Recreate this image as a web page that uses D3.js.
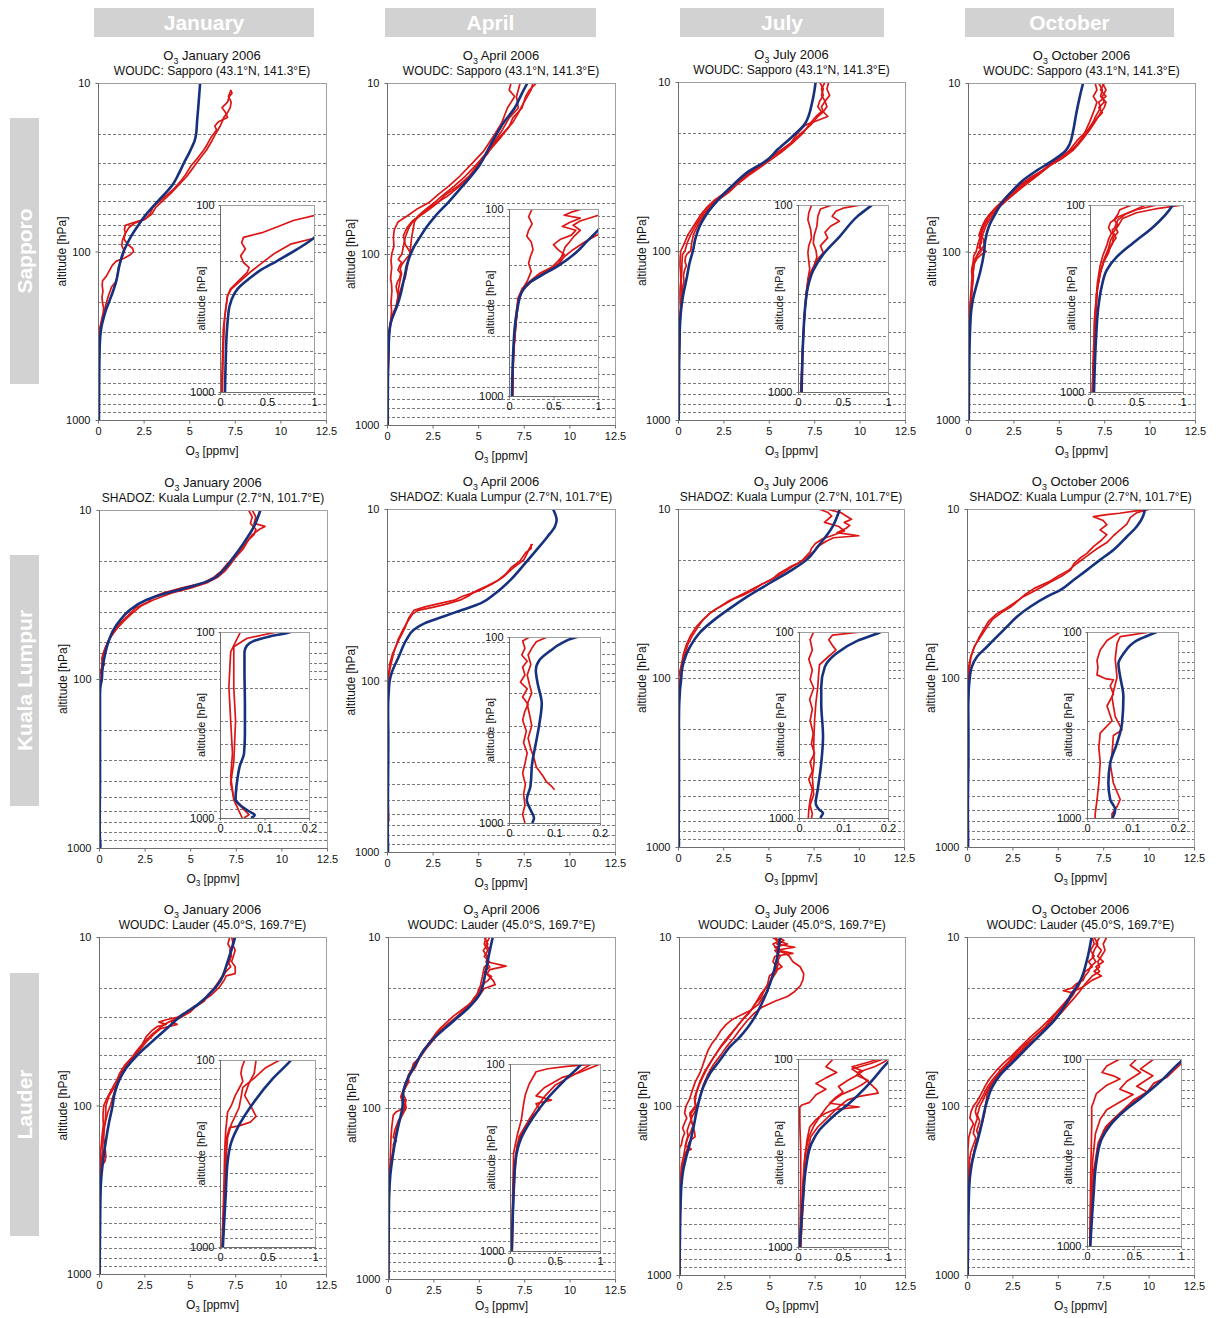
<!DOCTYPE html>
<html>
<head>
<meta charset="utf-8">
<script src="https://cdn.jsdelivr.net/npm/d3@7"></script>
<style>
  html, body { margin: 0; padding: 0; background: #fff; }
  svg { display: block; font-family: "Liberation Sans", Arial, Helvetica, sans-serif; }
</style>
</head>
<body>
<svg id="chart" width="1216" height="1318"></svg>
<script>
// ---------------------------------------------------------------
// Labels and ticks
// ---------------------------------------------------------------
const months = ["January", "April", "July", "October"];
const stations = ["Sapporo", "Kuala Lumpur", "Lauder"];
const stationSubtitles = [
  "WOUDC: Sapporo (43.1°N, 141.3°E)",
  "SHADOZ: Kuala Lumpur (2.7°N, 101.7°E)",
  "WOUDC: Lauder (45.0°S, 169.7°E)"
];
const year = "2006";
const mainTicksX = [0, 2.5, 5, 7.5, 10, 12.5];
const mainTicksY = [10, 100, 1000];
const insetTicksY = [100, 1000];
const insetTicksX = [[0, 0.5, 1], [0, 0.1, 0.2], [0, 0.5, 1]];
const insetMaxX = [1, 0.2, 1];
const gridLevels = [20, 30, 40, 50, 60, 70, 80, 90, 100, 200, 300, 400, 500, 600, 700, 800, 900];

// ---------------------------------------------------------------
// Ozone profiles: [pressure hPa, O3 ppmv]
// Model = monthly mean model profile, sondes = individual soundings
// ---------------------------------------------------------------
// Sapporo
const sapJanModel = [[10,5.6],[13,5.52],[17,5.43],[20,5.38],[22,5.3],[24,5.15],[26,5.0],[30,4.7],[35,4.4],[40,4.1],[45,3.7],[50,3.3],[60,2.65],[70,2.2],[80,1.85],[90,1.6],[100,1.4],[120,1.18],[150,1.0],[175,0.8],[200,0.6],[225,0.42],[250,0.3],[280,0.19],[300,0.15],[350,0.1],[400,0.085],[500,0.07],[700,0.06],[1000,0.053]];
const sapJanSondes = [
  [[11,7.25],[11.5,7.35],[12,7.2],[13,7.1],[14,6.8],[15,7.0],[16,7.1],[17,6.6],[18,6.4],[19,6.5],[21,6.2],[23,6.0],[25,5.8],[28,5.45],[31,5.1],[35,4.8],[38,4.55],[42,4.2],[46,3.8],[50,3.4],[55,3.0],[60,2.85],[64,2.6],[67,2.0],[70,1.5],[74,1.45],[78,1.5],[84,1.42],[90,1.6],[96,1.9],[100,1.95],[105,1.75],[110,1.4],[114,1.0],[121,0.78],[129,0.64],[140,0.46],[149,0.25],[159,0.23],[172,0.27],[187,0.22],[203,0.25],[216,0.31],[229,0.29],[254,0.2],[282,0.11],[306,0.08],[361,0.06],[461,0.035],[700,0.025],[1000,0.014]],
  [[11,7.3],[12,7.15],[13,7.3],[14,7.25],[15,7.1],[16,6.9],[17,6.8],[18,6.7],[20,6.45],[22,6.25],[25,5.95],[28,5.6],[32,5.2],[36,4.85],[40,4.45],[45,4.0],[50,3.55],[55,3.15],[60,2.95],[65,2.5],[68,2.0],[72,1.7],[78,1.5],[85,1.35],[92,1.3],[100,1.45],[110,1.3],[125,1.12],[140,1.05],[151,0.99],[162,0.75],[183,0.57],[207,0.43],[229,0.32],[259,0.2],[282,0.12],[306,0.08],[400,0.05],[600,0.035],[1000,0.025]]
];
const sapAprModel = [[10,7.7],[11.5,7.4],[14,7.0],[17,6.4],[20,6.0],[25,5.5],[30,5.1],[40,4.15],[50,3.35],[60,2.65],[70,2.15],[80,1.8],[90,1.5],[100,1.3],[115,1.1],[130,1.0],[150,0.87],[170,0.76],[200,0.56],[227,0.36],[247,0.23],[280,0.14],[330,0.1],[420,0.067],[600,0.046],[1000,0.033]];
const sapAprSondes = [
  [[10,6.8],[11,6.7],[12,7.0],[14,6.6],[17,6.3],[20,5.9],[25,5.3],[30,4.6],[35,4.0],[40,3.4],[45,2.8],[50,2.3],[55,1.6],[60,1.1],[65,0.6],[72,0.4],[80,0.35],[90,0.38],[100,0.26],[110,0.22],[120,0.26],[130,0.22],[140,0.2],[150,0.25],[165,0.27],[180,0.24],[195,0.22],[215,0.25],[240,0.21],[270,0.15],[300,0.11],[400,0.08],[600,0.05],[1000,0.035]],
  [[10,8.0],[11,7.9],[13,7.5],[15,7.2],[17,6.9],[20,6.3],[23,5.8],[26,5.5],[30,5.0],[35,4.5],[40,3.9],[45,3.2],[50,2.8],[55,2.3],[60,1.8],[65,1.4],[70,1.2],[80,1.0],[90,0.9],[100,0.82],[104,0.7],[108,0.62],[112,0.8],[118,0.68],[124,0.6],[130,0.75],[138,0.7],[145,0.58],[155,0.5],[165,0.55],[175,0.62],[190,0.55],[205,0.48],[220,0.35],[240,0.25],[265,0.15],[300,0.1],[400,0.07],[600,0.05],[1000,0.04]],
  [[10,7.3],[12,7.1],[14,7.2],[16,6.7],[19,6.3],[22,5.9],[26,5.4],[30,4.9],[35,4.3],[40,3.7],[45,3.1],[50,2.6],[55,2.1],[60,1.7],[65,1.5],[70,1.45],[80,1.35],[90,1.3],[100,1.25],[120,1.1],[137,1.0],[150,0.85],[165,0.72],[180,0.62],[200,0.55],[220,0.4],[245,0.25],[270,0.16],[300,0.11],[400,0.075],[600,0.05],[1000,0.04]],
  [[10,8.2],[11,7.8],[12,7.6],[14,7.4],[16,6.9],[18,6.7],[21,6.2],[25,5.6],[30,5.0],[35,4.6],[40,4.0],[46,3.3],[52,2.5],[58,1.9],[64,1.4],[70,1.1],[78,0.9],[88,1.0],[95,1.2],[100,1.3],[105,1.1],[110,0.95],[116,0.8],[122,0.72],[130,0.8],[140,0.73],[150,0.68],[160,0.63],[175,0.6],[195,0.56],[210,0.45],[230,0.32],[260,0.18],[300,0.11],[400,0.08],[600,0.05],[1000,0.04]]
];
const sapJulModel = [[10,7.58],[13,7.4],[17.6,7.0],[21,6.3],[25,5.5],[29,4.9],[34,3.85],[41,3.0],[50,2.2],[60,1.6],[71,1.2],[85,0.95],[100,0.82],[115,0.66],[148,0.46],[181,0.29],[223,0.17],[274,0.11],[350,0.08],[528,0.057],[1000,0.04]];
const sapJulSondes = [
  [[10,7.8],[11,8.0],[12,7.9],[13,8.1],[14,7.9],[15,8.0],[16,7.7],[18,7.3],[20,6.8],[23,6.2],[26,5.6],[30,4.7],[35,3.8],[40,3.1],[45,2.6],[50,2.0],[55,1.6],[60,1.3],[70,0.9],[80,0.55],[90,0.35],[100,0.15],[110,0.12],[120,0.11],[135,0.14],[150,0.15],[165,0.12],[180,0.11],[200,0.12],[220,0.13],[250,0.11],[300,0.09],[400,0.07],[600,0.05],[1000,0.03]],
  [[10,8.3],[11,8.2],[12,8.35],[13,8.1],[14,8.2],[15,8.0],[16,8.25],[17,7.6],[18,7.0],[20,6.6],[23,6.2],[26,5.5],[30,4.8],[35,3.9],[40,3.2],[45,2.7],[50,2.1],[55,1.7],[60,1.4],[70,1.0],[80,0.7],[90,0.5],[100,0.38],[105,0.25],[115,0.22],[130,0.21],[145,0.18],[160,0.17],[175,0.2],[190,0.21],[210,0.18],[240,0.12],[300,0.09],[400,0.07],[600,0.05],[1000,0.035]],
  [[10,8.1],[11,7.9],[12,8.0],[13,7.8],[14,7.7],[15,7.9],[16,7.6],[18,7.2],[20,6.9],[23,6.3],[26,5.7],[30,4.9],[35,4.0],[40,3.3],[45,2.8],[50,2.2],[55,1.8],[60,1.5],[70,1.1],[80,0.85],[90,0.75],[100,0.7],[104,0.5],[108,0.42],[115,0.38],[122,0.46],[130,0.36],[140,0.3],[150,0.33],[165,0.25],[180,0.28],[200,0.2],[230,0.15],[270,0.11],[350,0.08],[500,0.06],[1000,0.04]]
];
const sapOctModel = [[10,6.34],[12,6.16],[15,5.97],[19,5.8],[23,5.6],[25,5.4],[28.7,4.7],[33,3.8],[38,3.0],[43,2.5],[50,1.95],[60,1.5],[71,1.15],[86,0.95],[100,0.89],[131,0.68],[160,0.46],[189,0.29],[223,0.18],[274,0.125],[350,0.09],[528,0.064],[1000,0.043]];
const sapOctSondes = [
  [[10,7.2],[11,7.4],[12,7.3],[13,7.6],[14,7.5],[15,7.3],[17,7.0],[19,6.7],[21,6.4],[23,6.1],[25,5.8],[27,5.4],[30,4.7],[33,4.1],[36,3.5],[40,2.9],[45,2.3],[50,1.9],[55,1.5],[60,1.2],[65,0.95],[72,0.75],[80,0.6],[88,0.75],[95,0.6],[100,1.0],[105,0.7],[110,0.5],[118,0.35],[130,0.3],[140,0.25],[150,0.28],[165,0.22],[180,0.2],[200,0.15],[230,0.11],[280,0.08],[400,0.05],[1000,0.025]],
  [[10,7.5],[11,7.3],[12,7.6],[13,7.2],[14,7.3],[16,7.0],[18,6.8],[20,6.5],[22,6.2],[25,5.7],[28,5.0],[31,4.4],[35,3.8],[40,3.1],[45,2.5],[50,2.05],[55,1.65],[60,1.3],[70,0.9],[80,0.7],[90,0.55],[100,0.45],[106,0.32],[112,0.3],[120,0.26],[128,0.3],[136,0.24],[145,0.25],[155,0.22],[170,0.2],[190,0.16],[220,0.12],[280,0.08],[400,0.06],[1000,0.03]],
  [[10,7.0],[11,7.1],[12,6.9],[13,7.1],[14,7.0],[15,6.9],[17,6.7],[19,6.5],[21,6.3],[24,5.9],[27,5.2],[30,4.6],[34,4.0],[38,3.3],[43,2.6],[50,2.0],[56,1.5],[62,1.1],[70,0.85],[78,0.7],[85,0.85],[92,0.9],[100,0.6],[108,0.45],[116,0.3],[124,0.22],[132,0.2],[142,0.23],[152,0.2],[165,0.18],[185,0.14],[210,0.11],[260,0.08],[400,0.05],[1000,0.025]],
  [[10,7.4],[11,7.6],[12,7.4],[13,7.5],[14,7.2],[15,7.4],[17,6.9],[19,6.6],[22,6.0],[25,5.6],[28,5.2],[31,4.5],[35,3.9],[40,3.2],[45,2.6],[50,2.1],[55,1.7],[60,1.4],[70,1.0],[80,0.8],[90,0.65],[100,0.72],[106,0.5],[112,0.38],[120,0.3],[130,0.27],[140,0.3],[150,0.25],[162,0.24],[175,0.2],[200,0.15],[240,0.1],[300,0.07],[500,0.05],[1000,0.03]]
];

// Kuala Lumpur
const klJanModel = [[10,8.85],[12.5,8.5],[15.7,7.93],[19,7.38],[22.6,6.83],[26,6.1],[28.5,5.0],[31,3.72],[34,2.62],[39,1.7],[45,1.15],[51,0.8],[61,0.5],[77,0.27],[90,0.18],[100,0.158],[106,0.11],[112,0.075],[118,0.061],[128,0.055],[160,0.055],[250,0.056],[350,0.056],[450,0.054],[520,0.045],[620,0.039],[795,0.035],[850,0.045],[920,0.065],[965,0.078],[1000,0.07]];
const klJanSondes = [
  [[10,8.2],[11,8.4],[12,8.3],[13,8.6],[14,8.5],[15,8.2],[17,7.8],[19,7.4],[21,7.0],[23,6.7],[25,6.3],[27,5.7],[29,4.5],[31,3.5],[33,2.9],[35,2.7],[38,2.0],[42,1.6],[46,1.2],[52,0.85],[60,0.5],[68,0.3],[76,0.15],[82,0.3],[88,0.1],[95,0.05],[100,0.046],[128,0.024],[197,0.02],[300,0.024],[450,0.028],[600,0.024],[800,0.031],[920,0.043],[1000,0.05]],
  [[10,8.4],[11,8.6],[12,8.5],[12.5,9.1],[13,8.8],[14,8.4],[15,8.2],[17,7.9],[19,7.5],[21,7.2],[23,6.9],[25,6.5],[27,5.9],[29,5.0],[31,4.0],[34,3.0],[37,2.3],[41,1.8],[45,1.4],[50,1.0],[57,0.6],[65,0.35],[72,0.2],[80,0.16],[90,0.14],[100,0.128],[108,0.061],[120,0.031],[200,0.031],[300,0.035],[500,0.031],[650,0.024],[800,0.032],[960,0.065],[1000,0.054]]
];
const klAprModel = [[10,9.1],[11.6,9.3],[12.7,9.2],[14.5,8.8],[17.3,8.2],[20.7,7.58],[26,6.76],[31,5.95],[35.5,5.13],[38.8,4.11],[42.3,3.1],[46.3,2.08],[50.6,1.47],[58,1.06],[72.5,0.65],[90,0.26],[100,0.149],[110,0.11],[118,0.092],[133,0.067],[151,0.059],[178,0.063],[228,0.072],[291,0.067],[373,0.059],[476,0.051],[636,0.047],[752,0.039],[847,0.047],[940,0.055],[1000,0.051]];
const klAprSondes = [
  [[16,7.98],[17,7.8],[18,7.7],[19.8,7.5],[21.7,7.0],[25,6.35],[27.5,5.74],[29.7,5.13],[32.4,4.11],[34,3.7],[35.5,2.9],[37.2,2.08],[39,1.47],[43,1.2],[50,0.96],[58,0.65],[70,0.3],[80,0.15],[90,0.1],[100,0.045],[105,0.03],[115,0.035],[125,0.028],[135,0.04],[145,0.03],[160,0.035],[175,0.025],[190,0.04],[210,0.03],[230,0.042],[250,0.035],[280,0.03],[320,0.038],[370,0.032],[420,0.04],[480,0.035],[540,0.03],[620,0.036],[700,0.032],[800,0.035],[900,0.03],[1000,0.035]],
  [[16,7.9],[17,7.9],[18,7.6],[20,7.3],[22,6.8],[24,6.5],[26,6.1],[28,5.5],[30,4.9],[32,4.5],[34,4.0],[36,3.2],[37.5,2.5],[39,1.7],[41,1.4],[45,1.15],[50,0.9],[58,0.6],[70,0.35],[82,0.2],[92,0.1],[100,0.084],[106,0.06],[115,0.05],[125,0.042],[140,0.048],[160,0.04],[180,0.045],[200,0.05],[230,0.04],[260,0.045],[300,0.05],[350,0.042],[400,0.048],[450,0.055],[500,0.06],[560,0.075],[600,0.082],[640,0.095],[662,0.1]]
];
const klJulModel = [[10,8.95],[12.7,8.55],[16.7,7.73],[20,7.11],[23,6.29],[27.5,5.06],[33,3.83],[37.8,3.01],[45.3,2.0],[54.4,1.17],[65.4,0.66],[78,0.35],[93,0.2],[100,0.183],[111,0.133],[131,0.083],[154,0.058],[197,0.05],[242,0.05],[365,0.054],[505,0.05],[705,0.042],[830,0.0375],[903,0.046],[940,0.054],[979,0.05],[1000,0.048]];
const klJulSondes = [
  [[10,7.8],[10.5,8.3],[11,8.5],[12,8.1],[12.7,8.9],[13.5,9.2],[14.4,8.5],[15,8.0],[16,7.6],[17,7.4],[18,7.3],[20,6.9],[21,6.6],[22,6.2],[24,5.6],[26,5.2],[28,4.6],[30,4.2],[32,3.7],[34,3.1],[36,2.7],[39,2.1],[42,1.7],[46,1.3],[50,1.0],[56,0.7],[64,0.45],[72,0.3],[82,0.2],[92,0.1],[100,0.033],[110,0.025],[125,0.03],[140,0.022],[160,0.03],[180,0.025],[200,0.033],[230,0.024],[260,0.03],[300,0.025],[350,0.032],[400,0.028],[450,0.035],[500,0.025],[560,0.03],[620,0.022],[700,0.03],[800,0.025],[900,0.022],[1000,0.021]],
  [[10,8.2],[10.5,9.0],[11,9.3],[11.5,9.6],[12,9.2],[12.5,9.5],[13,9.3],[13.8,8.8],[14.4,10.0],[14.8,8.6],[15.5,8.2],[16.5,7.8],[17.5,7.6],[19,7.2],[20.5,6.8],[22,6.3],[23.5,5.9],[25,5.5],[27,4.9],[29,4.3],[31,3.8],[33,3.3],[35,2.8],[38,2.3],[41,1.8],[45,1.4],[50,1.1],[56,0.8],[63,0.55],[72,0.38],[82,0.25],[92,0.18],[100,0.14],[104,0.075],[110,0.067],[118,0.075],[125,0.083],[135,0.067],[150,0.046],[170,0.044],[200,0.042],[240,0.038],[300,0.035],[400,0.033],[500,0.034],[600,0.03],[750,0.033],[850,0.025],[950,0.03],[1000,0.028]]
];
const klOctModel = [[10,9.8],[11,9.7],[12.7,9.35],[14.6,8.8],[17.5,8.06],[20,7.33],[23,6.6],[26.3,5.87],[30.2,5.13],[33,4.4],[37.9,3.48],[43.4,2.75],[49.7,2.2],[56.9,1.65],[65.3,1.1],[74.8,0.55],[85.6,0.27],[94,0.18],[100,0.153],[111,0.11],[131,0.08],[148,0.069],[174,0.073],[223,0.08],[310,0.077],[396,0.066],[506,0.051],[648,0.047],[795,0.051],[900,0.062],[978,0.058],[1000,0.056]];
const klOctSondes = [
  [[10,10.1],[10.3,9.2],[10.6,8.4],[10.8,7.7],[11.1,6.96],[11.7,7.5],[12.4,7.7],[13.3,7.33],[14.2,7.7],[15.3,7.4],[16.7,6.96],[18.3,6.6],[19.5,6.23],[21,5.9],[23,5.7],[25,5.2],[27,4.6],[29,4.1],[31,3.6],[33,3.1],[36,2.6],[39,2.1],[42,1.6],[46,1.2],[52,0.9],[58,0.65],[66,0.4],[75,0.2],[85,0.1],[100,0.073],[111,0.044],[125,0.029],[142,0.022],[155,0.024],[170,0.022],[178,0.04],[181,0.058],[195,0.051],[215,0.058],[250,0.044],[300,0.055],[350,0.029],[420,0.026],[500,0.029],[650,0.026],[800,0.022],[950,0.018],[1000,0.018]],
  [[10,10.1],[10.5,9.35],[11.2,9.0],[12.3,8.8],[13.3,8.43],[14.4,8.06],[15.8,7.7],[17.2,7.15],[19,6.6],[21,6.05],[23,5.6],[25,5.0],[27,4.5],[29.5,3.7],[32,3.2],[35,2.8],[38,2.4],[41,1.9],[45,1.4],[50,1.1],[57,0.75],[65,0.4],[75,0.22],[85,0.15],[95,0.14],[100,0.139],[106,0.073],[115,0.066],[140,0.062],[175,0.066],[225,0.055],[285,0.062],[336,0.077],[360,0.058],[450,0.055],[510,0.051],[650,0.058],[795,0.073],[870,0.066],[950,0.055],[1000,0.055]]
];

// Lauder
const laJanModel = [[10,7.5],[13.9,7.09],[18.3,6.67],[22,6.05],[25.2,5.43],[28.9,4.6],[34.6,3.78],[41.5,2.95],[50,2.13],[60,1.5],[71.3,1.1],[85.8,0.85],[100,0.75],[125,0.56],[167,0.36],[223,0.2],[274,0.12],[350,0.08],[528,0.06],[800,0.04],[1000,0.03]];
const laJanSondes = [
  [[10,7.3],[11,7.4],[12,7.2],[13,7.3],[14,7.1],[15,7.25],[16,7.0],[18,6.7],[20,6.4],[22,6.0],[24,5.8],[26,5.3],[28,4.8],[30,4.3],[31,3.7],[32,3.3],[33,3.7],[34,3.2],[36,2.9],[39,2.6],[43,2.4],[47,2.1],[52,1.8],[58,1.4],[64,1.15],[70,1.0],[80,0.7],[90,0.45],[100,0.26],[110,0.23],[118,0.22],[130,0.24],[142,0.2],[155,0.16],[175,0.12],[190,0.08],[240,0.06],[300,0.05],[500,0.04],[1000,0.02]],
  [[10,7.45],[11,7.35],[12,7.5],[13,7.4],[14,7.3],[15,7.5],[16.5,7.5],[17,7.0],[18,6.9],[20,6.6],[22,6.2],[24,5.7],[26,5.3],[28,5.0],[30,4.5],[32,4.0],[33,4.3],[35,3.4],[38,3.0],[42,2.6],[46,2.3],[50,2.0],[56,1.6],[62,1.3],[70,1.1],[78,0.85],[88,0.55],[100,0.38],[118,0.36],[135,0.3],[155,0.26],[175,0.32],[200,0.38],[215,0.32],[225,0.2],[230,0.1],[260,0.07],[350,0.06],[500,0.05],[1000,0.03]],
  [[10,7.2],[11,7.1],[12,7.3],[14,7.2],[15,7.0],[17,6.8],[19,6.5],[21,6.2],[23,5.9],[25,5.5],[27,5.1],[29,4.6],[31,4.1],[33,3.6],[35,3.3],[38,2.9],[42,2.5],[46,2.2],[51,1.9],[57,1.5],[63,1.25],[70,1.05],[80,0.9],[90,0.75],[100,0.63],[110,0.48],[125,0.36],[140,0.24],[160,0.22],[180,0.2],[220,0.12],[260,0.08],[350,0.06],[500,0.05],[1000,0.03]]
];
const laAprModel = [[10,5.77],[12.7,5.56],[16.6,5.35],[21.7,5.04],[26,4.42],[29.8,3.8],[34,3.17],[38.9,2.55],[46.6,1.93],[55.8,1.51],[66.8,1.1],[80,0.85],[100,0.79],[119,0.63],[152,0.42],[195,0.25],[249,0.125],[333,0.06],[500,0.04],[1000,0.02]];
const laAprSondes = [
  [[10,5.3],[11,5.5],[12,5.25],[13,5.45],[14,5.5],[14.8,6.5],[15.5,5.6],[16.5,5.45],[18,5.8],[19,5.9],[20,5.3],[21.5,5.1],[23,4.8],[25,4.4],[27,4.0],[29,3.6],[31,3.3],[34,2.9],[37,2.6],[41,2.3],[46,2.0],[52,1.7],[58,1.5],[64,1.2],[70,1.05],[76,0.95],[82,0.8],[90,1.0],[96,0.9],[100,0.96],[103,0.63],[106,0.42],[110,0.29],[129,0.21],[146,0.17],[165,0.15],[200,0.125],[240,0.08],[300,0.04],[500,0.03],[1000,0.02]],
  [[10,5.6],[11,5.4],[12,5.6],[13,5.5],[14,5.4],[15,5.6],[16,5.3],[17,5.7],[18,5.5],[19,5.2],[20,5.0],[22,4.9],[24,4.6],[26,4.3],[28,4.0],[30,3.7],[33,3.2],[36,2.8],[40,2.5],[45,2.1],[50,1.8],[55,1.4],[60,1.3],[65,1.1],[70,1.15],[78,0.9],[85,0.75],[92,0.95],[100,1.0],[112,0.75],[118,0.58],[134,0.38],[148,0.29],[156,0.46],[163,0.29],[175,0.33],[190,0.25],[215,0.17],[245,0.1],[300,0.07],[500,0.04],[1000,0.025]],
  [[10,5.4],[11,5.3],[12,5.5],[13,5.3],[14,5.6],[15,5.3],[17,5.2],[19,5.1],[21,5.0],[23,4.7],[25,4.5],[28,4.0],[31,3.5],[35,2.9],[40,2.4],[45,2.0],[50,1.75],[56,1.45],[62,1.2],[70,1.0],[78,0.85],[86,0.7],[95,0.85],[100,0.9],[115,0.7],[130,0.5],[150,0.38],[170,0.3],[195,0.22],[230,0.14],[270,0.08],[350,0.05],[600,0.03],[1000,0.02]]
];
const laJulModel = [[10,5.59],[13.7,5.4],[18.9,5.03],[23.7,4.66],[28.4,4.3],[34,3.83],[39,3.37],[44.6,2.82],[53.5,2.27],[64.3,1.71],[77,1.35],[92,1.12],[104,1.0],[134,0.8],[172,0.57],[202,0.39],[238,0.24],[281,0.15],[374,0.09],[563,0.055],[1000,0.02]];
const laJulSondes = [
  [[10,5.1],[10.5,5.6],[11,5.2],[12,5.5],[12.5,6.3],[13,5.3],[14,5.2],[15,5.4],[17,5.2],[19,5.0],[21,4.9],[23,4.6],[25,4.4],[27,4.0],[29,3.4],[31,2.9],[33,2.6],[36,2.3],[39,2.1],[43,1.8],[47,1.6],[52,1.45],[58,1.3],[64,1.15],[72,0.9],[80,0.75],[90,0.6],[100,0.39],[110,0.31],[118,0.43],[126,0.31],[135,0.2],[145,0.31],[155,0.2],[170,0.13],[175,0.05],[180,0.02],[220,0.02],[300,0.03],[500,0.03],[1000,0.02]],
  [[10,5.3],[11,5.6],[12,5.4],[12.5,5.9],[13,6.1],[14,6.3],[15,6.7],[16.5,6.9],[18,6.85],[19.5,6.7],[21,6.4],[22.5,6.0],[24,5.3],[26,4.6],[28,4.2],[31,3.8],[35,3.4],[40,3.0],[45,2.6],[50,2.3],[57,1.9],[65,1.6],[75,1.35],[85,1.2],[95,1.1],[100,1.0],[104,0.95],[110,0.85],[118,0.66],[125,0.72],[135,0.8],[145,0.87],[152,0.89],[158,0.68],[165,0.55],[180,0.45],[200,0.35],[230,0.22],[260,0.14],[320,0.1],[450,0.07],[1000,0.03]],
  [[10,5.5],[10.5,5.8],[11,5.4],[11.5,6.4],[12,5.3],[13,5.6],[14,5.4],[15,5.7],[16,5.3],[17,5.0],[19,4.9],[21,4.7],[23,4.5],[25,4.2],[28,3.9],[31,3.5],[35,3.1],[40,2.7],[45,2.3],[50,2.0],[56,1.7],[63,1.4],[70,1.2],[80,1.0],[90,0.85],[100,0.95],[106,0.8],[113,0.6],[120,0.68],[130,0.55],[140,0.45],[150,0.5],[160,0.42],[172,0.35],[180,0.68],[186,0.4],[195,0.3],[210,0.2],[230,0.13],[270,0.1],[350,0.07],[500,0.05],[1000,0.025]],
  [[10,5.2],[10.5,5.4],[11,6.0],[11.5,5.3],[12,5.6],[13,5.4],[14,5.5],[16,5.4],[18,5.1],[20,4.8],[22,4.5],[24,4.3],[27,4.0],[30,3.6],[34,3.2],[38,2.8],[43,2.4],[48,2.1],[54,1.8],[60,1.55],[68,1.3],[76,1.1],[85,0.95],[95,0.88],[100,0.9],[105,0.75],[110,0.6],[116,0.72],[122,0.65],[130,0.78],[138,0.7],[146,0.6],[155,0.48],[165,0.4],[180,0.32],[200,0.25],[225,0.18],[260,0.12],[320,0.08],[450,0.06],[1000,0.03]]
];
const laOctModel = [[10,6.86],[13.9,6.59],[18.3,6.22],[21,5.86],[26.3,5.3],[31.6,4.76],[37.9,4.03],[45.5,3.29],[54.6,2.56],[65.5,1.83],[78.6,1.35],[94,1.1],[103,1.0],[132,0.78],[162,0.57],[191,0.39],[225,0.25],[265,0.16],[354,0.1],[532,0.07],[1000,0.035]];
const laOctSondes = [
  [[10,7.7],[11,7.5],[12,7.6],[13,7.4],[14,7.2],[15,7.3],[16,7.0],[17,7.4],[18,6.9],[19,6.6],[20,6.3],[21,5.8],[23,5.6],[25,5.3],[28,4.9],[31,4.5],[35,4.0],[39,3.5],[44,3.0],[50,2.5],[56,2.0],[62,1.6],[70,1.2],[78,0.95],[86,0.75],[94,0.55],[100,0.35],[109,0.21],[118,0.16],[123,0.28],[128,0.35],[138,0.21],[153,0.1],[170,0.07],[180,0.05],[230,0.05],[400,0.04],[1000,0.03]],
  [[10,7.0],[11,7.2],[12,7.0],[13,6.9],[14,7.1],[15,6.8],[16,6.7],[17,6.5],[18,6.4],[19,6.0],[20,5.8],[20.8,5.3],[21.5,5.9],[23,5.7],[25,5.5],[28,5.1],[31,4.7],[35,4.2],[39,3.7],[44,3.1],[50,2.6],[56,2.2],[62,1.8],[70,1.4],[78,1.1],[86,0.9],[94,0.7],[100,0.53],[108,0.46],[118,0.57],[132,0.42],[145,0.35],[155,0.49],[170,0.35],[187,0.21],[210,0.14],[250,0.09],[350,0.06],[600,0.04],[1000,0.03]],
  [[10,7.3],[11,7.1],[12,7.4],[13,7.2],[14,7.5],[15,7.1],[16,7.3],[17,6.9],[18,6.7],[19,6.5],[21,6.2],[23,5.9],[25,5.6],[28,5.2],[31,4.8],[35,4.3],[39,3.9],[44,3.3],[50,2.8],[56,2.3],[62,1.9],[70,1.5],[78,1.2],[86,1.0],[94,0.85],[100,0.71],[113,0.57],[123,0.7],[140,0.53],[150,0.64],[165,0.5],[185,0.4],[205,0.3],[230,0.2],[280,0.12],[400,0.07],[1000,0.03]],
  [[10,6.9],[11,7.0],[12,6.8],[13,7.0],[14,6.7],[15,6.9],[16,6.5],[18,6.3],[20,6.1],[22,5.8],[24,5.5],[27,5.1],[30,4.7],[34,4.3],[38,3.8],[43,3.3],[48,2.9],[54,2.4],[60,2.0],[68,1.6],[76,1.3],[85,1.1],[95,1.05],[100,1.0],[106,1.0],[112,0.95],[125,0.85],[135,0.71],[150,0.64],[165,0.53],[180,0.42],[195,0.35],[215,0.27],[240,0.18],[300,0.11],[450,0.07],[1000,0.035]]
];

const models = [
  [sapJanModel, sapAprModel, sapJulModel, sapOctModel],
  [klJanModel, klAprModel, klJulModel, klOctModel],
  [laJanModel, laAprModel, laJulModel, laOctModel]
];
const soundings = [
  [sapJanSondes, sapAprSondes, sapJulSondes, sapOctSondes],
  [klJanSondes, klAprSondes, klJulSondes, klOctSondes],
  [laJanSondes, laAprSondes, laJulSondes, laOctSondes]
];

// ---------------------------------------------------------------
// Page layout (pixel frames of each panel and its zoomed inset)
// ---------------------------------------------------------------
const panelFrames = [
  [
    { x0: 98,  x1: 326,  y0: 83,  y1: 420,  ix0: 220,  ix1: 314,  iy0: 205,  iy1: 392 },
    { x0: 387, x1: 615,  y0: 83,  y1: 425,  ix0: 509,  ix1: 598,  iy0: 209,  iy1: 396 },
    { x0: 678, x1: 905,  y0: 82,  y1: 420,  ix0: 798,  ix1: 888,  iy0: 205,  iy1: 392 },
    { x0: 968, x1: 1195, y0: 83,  y1: 420,  ix0: 1090, ix1: 1183, iy0: 205,  iy1: 392 }
  ],
  [
    { x0: 99,  x1: 327,  y0: 510, y1: 848,  ix0: 220,  ix1: 309,  iy0: 632,  iy1: 818 },
    { x0: 387, x1: 615,  y0: 509, y1: 852,  ix0: 509,  ix1: 600,  iy0: 637,  iy1: 823 },
    { x0: 678, x1: 904,  y0: 509, y1: 847,  ix0: 799,  ix1: 888,  iy0: 632,  iy1: 818 },
    { x0: 967, x1: 1194, y0: 509, y1: 847,  ix0: 1087, ix1: 1178, iy0: 632,  iy1: 818 }
  ],
  [
    { x0: 99,  x1: 326,  y0: 937, y1: 1274, ix0: 220,  ix1: 315,  iy0: 1060, iy1: 1247 },
    { x0: 388, x1: 615,  y0: 937, y1: 1279, ix0: 510,  ix1: 600,  iy0: 1064, iy1: 1251 },
    { x0: 679, x1: 905,  y0: 937, y1: 1275, ix0: 798,  ix1: 888,  iy0: 1059, iy1: 1247 },
    { x0: 967, x1: 1194, y0: 937, y1: 1275, ix0: 1087, ix1: 1181, iy0: 1059, iy1: 1246 }
  ]
];
const headerBoxes = [
  { x: 94, w: 220 }, { x: 385, w: 211 }, { x: 680, w: 204 }, { x: 965, w: 209 }
];
const rowBoxes = [
  { y: 118, h: 266 }, { y: 555, h: 251 }, { y: 973, h: 263 }
];

// ---------------------------------------------------------------
// Drawing
// ---------------------------------------------------------------
const RED = "#dc1515";
const BLUE = "#16317d";
const GRID = "#7a7a7a";
const FRAME = "#a0a0a0";
const AXIS = "#6e6e6e";

const svg = d3.select("#chart");
const defs = svg.append("defs");

// column headers
const hdr = svg.append("g");
headerBoxes.forEach((b, i) => {
  hdr.append("rect").attr("x", b.x).attr("y", 8).attr("width", b.w).attr("height", 29).attr("fill", "#d2d2d2");
  hdr.append("text").attr("x", b.x + b.w / 2).attr("y", 30).attr("text-anchor", "middle")
    .attr("font-size", 21).attr("font-weight", "bold").attr("fill", "#fff").text(months[i]);
});
// row labels
rowBoxes.forEach((b, i) => {
  hdr.append("rect").attr("x", 10).attr("y", b.y).attr("width", 29).attr("height", b.h).attr("fill", "#d2d2d2");
  hdr.append("text").attr("transform", `translate(32,${b.y + b.h / 2}) rotate(-90)`)
    .attr("text-anchor", "middle").attr("font-size", 21).attr("font-weight", "bold").attr("fill", "#fff")
    .text(stations[i]);
});

function o3Label(sel, rest, size) {
  sel.append("tspan").text("O");
  sel.append("tspan").attr("font-size", size * 0.68).attr("dy", size * 0.28).text("3");
  sel.append("tspan").attr("dy", -size * 0.28).text(rest);
}

function styleAxis(g) {
  g.select(".domain").remove();
  g.selectAll(".tick line").attr("stroke", AXIS);
  g.selectAll(".tick text").attr("font-size", 11).attr("fill", "#111")
    .attr("font-family", "'Liberation Sans', Arial, sans-serif");
}

function drawProfiles(g, xs, ys, model, sondes, clipId) {
  const lg = g.append("g").attr("clip-path", `url(#${clipId})`);
  const sondeLine = d3.line().x(d => xs(d[1])).y(d => ys(d[0]));
  sondes.forEach(s => {
    lg.append("path").attr("d", sondeLine(s)).attr("fill", "none")
      .attr("stroke", RED).attr("stroke-width", 1.7).attr("stroke-linejoin", "round");
  });
  const modelLine = d3.line().x(d => xs(d[1])).y(d => ys(d[0])).curve(d3.curveMonotoneY);
  lg.append("path").attr("d", modelLine(model)).attr("fill", "none")
    .attr("stroke", BLUE).attr("stroke-width", 2.6).attr("stroke-linejoin", "round");
}

function drawGrid(g, ys, x0, x1, lo, hi) {
  gridLevels.filter(p => p > lo && p < hi).forEach(p => {
    const yy = Math.round(ys(p)) + 0.5;
    g.append("line").attr("x1", x0).attr("x2", x1).attr("y1", yy).attr("y2", yy)
      .attr("stroke", GRID).attr("stroke-width", 1).attr("stroke-dasharray", "3,2");
  });
}

function drawFrame(g, x0, x1, y0, y1) {
  g.append("rect").attr("x", x0 + 0.5).attr("y", y0 + 0.5).attr("width", x1 - x0).attr("height", y1 - y0)
    .attr("fill", "none").attr("stroke", FRAME).attr("stroke-width", 1);
  g.append("line").attr("x1", x0 + 0.5).attr("x2", x0 + 0.5).attr("y1", y0).attr("y2", y1 + 0.5)
    .attr("stroke", AXIS).attr("stroke-width", 1);
  g.append("line").attr("x1", x0).attr("x2", x1 + 0.5).attr("y1", y1 + 0.5).attr("y2", y1 + 0.5)
    .attr("stroke", AXIS).attr("stroke-width", 1);
}

panelFrames.forEach((rowFrames, r) => rowFrames.forEach((f, c) => {
  const g = svg.append("g");
  const model = models[r][c];
  const sondes = soundings[r][c];
  const cx = (f.x0 + f.x1) / 2;

  // titles
  const t1 = g.append("text").attr("x", cx).attr("y", f.y0 - 23).attr("text-anchor", "middle")
    .attr("font-size", 13).attr("fill", "#111");
  o3Label(t1, ` ${months[c]} ${year}`, 13);
  g.append("text").attr("x", cx).attr("y", f.y0 - 8).attr("text-anchor", "middle")
    .attr("font-size", 12).attr("fill", "#111").text(stationSubtitles[r]);

  // main scales
  const x = d3.scaleLinear().domain([0, 12.5]).range([f.x0, f.x1]);
  const y = d3.scaleLog().domain([10, 1000]).range([f.y0, f.y1]);

  const clipId = `clip-main-${r}-${c}`;
  defs.append("clipPath").attr("id", clipId).append("rect")
    .attr("x", f.x0).attr("y", f.y0).attr("width", f.x1 - f.x0).attr("height", f.y1 - f.y0);

  drawGrid(g, y, f.x0, f.x1, 10, 1000);
  drawProfiles(g, x, y, model, sondes, clipId);
  drawFrame(g, f.x0, f.x1, f.y0, f.y1);

  const ax = g.append("g").attr("transform", `translate(0,${f.y1 + 0.5})`)
    .call(d3.axisBottom(x).tickValues(mainTicksX).tickFormat(d3.format("~g")).tickSize(3).tickPadding(4));
  styleAxis(ax);
  const ay = g.append("g").attr("transform", `translate(${f.x0 + 0.5},0)`)
    .call(d3.axisLeft(y).tickValues(mainTicksY).tickFormat(d3.format("d")).tickSize(3).tickPadding(5));
  styleAxis(ay);

  const xl = g.append("text").attr("x", cx).attr("y", Math.min(f.y1 + 35, 1310)).attr("text-anchor", "middle")
    .attr("font-size", 12).attr("fill", "#111");
  o3Label(xl, " [ppmv]", 12);
  g.append("text").attr("transform", `translate(${f.x0 - 32},${(f.y0 + f.y1) / 2}) rotate(-90)`)
    .attr("text-anchor", "middle").attr("font-size", 12).attr("fill", "#111").text("altitude [hPa]");

  // inset: lower atmosphere, 100-1000 hPa
  const xi = d3.scaleLinear().domain([0, insetMaxX[r]]).range([f.ix0, f.ix1]);
  const yi = d3.scaleLog().domain([100, 1000]).range([f.iy0, f.iy1]);
  const gi = g.append("g");
  gi.append("rect").attr("x", f.ix0).attr("y", f.iy0).attr("width", f.ix1 - f.ix0).attr("height", f.iy1 - f.iy0)
    .attr("fill", "#fff");
  const clipInset = `clip-inset-${r}-${c}`;
  defs.append("clipPath").attr("id", clipInset).append("rect")
    .attr("x", f.ix0).attr("y", f.iy0).attr("width", f.ix1 - f.ix0).attr("height", f.iy1 - f.iy0);
  drawGrid(gi, yi, f.ix0, f.ix1, 100, 1000);
  drawProfiles(gi, xi, yi, model, sondes, clipInset);
  drawFrame(gi, f.ix0, f.ix1, f.iy0, f.iy1);

  const axi = gi.append("g").attr("transform", `translate(0,${f.iy1 + 0.5})`)
    .call(d3.axisBottom(xi).tickValues(insetTicksX[r]).tickFormat(d3.format("~g")).tickSize(2).tickPadding(4));
  styleAxis(axi);
  const ayi = gi.append("g").attr("transform", `translate(${f.ix0 + 0.5},0)`)
    .call(d3.axisLeft(yi).tickValues(insetTicksY).tickFormat(d3.format("d")).tickSize(2).tickPadding(4));
  styleAxis(ayi);
  gi.append("text").attr("transform", `translate(${f.ix0 - 15},${(f.iy0 + f.iy1) / 2}) rotate(-90)`)
    .attr("text-anchor", "middle").attr("font-size", 11).attr("fill", "#111").text("altitude [hPa]");
}));
</script>
</body>
</html>
